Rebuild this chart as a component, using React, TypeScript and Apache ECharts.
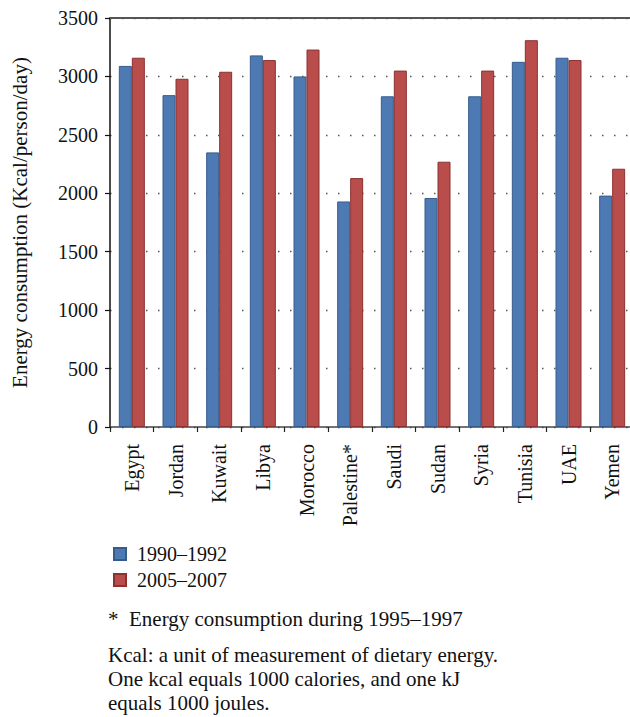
import React, { useEffect, useRef } from "react";
import * as echarts from "echarts";

const categories = ["Egypt", "Jordan", "Kuwait", "Libya", "Morocco", "Palestine*", "Saudi", "Sudan", "Syria", "Tunisia", "UAE", "Yemen"];
const series1990 = [3090, 2840, 2350, 3180, 3000, 1930, 2830, 1960, 2830, 3125, 3160, 1980];
const series2005 = [3160, 2980, 3040, 3140, 3230, 2130, 3050, 2270, 3050, 3310, 3140, 2210];
const seriesNames = ["1990–1992", "2005–2007"];
const yAxisName = "Energy consumption (Kcal/person/day)";
const footnotes = [
  "*  Energy consumption during 1995–1997",
  "Kcal: a unit of measurement of dietary energy.",
  "One kcal equals 1000 calories, and one kJ",
  "equals 1000 joules.",
];

const FONT = "'Liberation Serif', 'DejaVu Serif', serif";

export default function App() {
  const ref = useRef<HTMLDivElement>(null);
  useEffect(() => {
    document.body.style.margin = "0";
    const chart = echarts.init(ref.current!, null, { renderer: "svg" });
    chart.setOption({
      animation: false,
      textStyle: { fontFamily: FONT },
      grid: { left: 110, width: 524, top: 18, height: 409, containLabel: false, outerBoundsMode: "none" },
      legend: {
        orient: "vertical",
        left: 108,
        top: 539,
        itemWidth: 12,
        itemHeight: 12,
        itemGap: 6,
        icon: "rect",
        textStyle: { fontFamily: FONT, fontSize: 20, color: "#111", padding: [0, 0, 0, 6] },
        data: seriesNames,
      },
      xAxis: [
        {
          type: "category",
          data: categories,
          axisLine: { show: true, lineStyle: { color: "#444", width: 1.5 } },
          axisTick: { show: true, alignWithLabel: false, length: 5, lineStyle: { color: "#222", width: 1.2 } },
          axisLabel: {
            rotate: 90,
            interval: 0,
            margin: 17,
            fontFamily: FONT,
            fontSize: 20,
            color: "#111",
          },
        },
        {
          type: "category",
          position: "top",
          data: categories,
          axisLine: { show: true, lineStyle: { color: "#555", width: 2 } },
          axisTick: { show: false },
          axisLabel: { show: false },
        },
      ],
      yAxis: {
        type: "value",
        min: 0,
        max: 3500,
        interval: 500,
        name: yAxisName,
        nameLocation: "middle",
        nameGap: 80,
        nameTextStyle: { fontFamily: FONT, fontSize: 21, color: "#111" },
        axisLine: { show: true, lineStyle: { color: "#111", width: 1.5 } },
        axisTick: { show: true, length: 5, lineStyle: { color: "#111", width: 1.2 } },
        axisLabel: { fontFamily: FONT, fontSize: 20, color: "#111", margin: 12, formatter: (v: number) => String(v) },
        splitLine: { show: true, lineStyle: { color: "#555", width: 1.3, type: [1.5, 10.5] } },
      },
      series: [
        {
          name: seriesNames[0],
          type: "bar",
          data: series1990,
          barWidth: 13,
          barGap: "0%",
          itemStyle: { color: "#4E7AB3", borderColor: "#375C8C", borderWidth: 1 },
        },
        {
          name: seriesNames[1],
          type: "bar",
          data: series2005,
          barWidth: 13,
          barGap: "0%",
          itemStyle: { color: "#B94D4C", borderColor: "#8A3230", borderWidth: 1 },
        },
      ],
      graphic: footnotes.map((t, i) => ({
        type: "text",
        left: 108,
        top: [608, 644, 668, 692][i],
        style: { text: t, fontFamily: FONT, fontSize: 21, fill: "#111" },
      })),
    });
    return () => chart.dispose();
  }, []);
  return <div ref={ref} style={{ width: 630, height: 717 }} />;
}
